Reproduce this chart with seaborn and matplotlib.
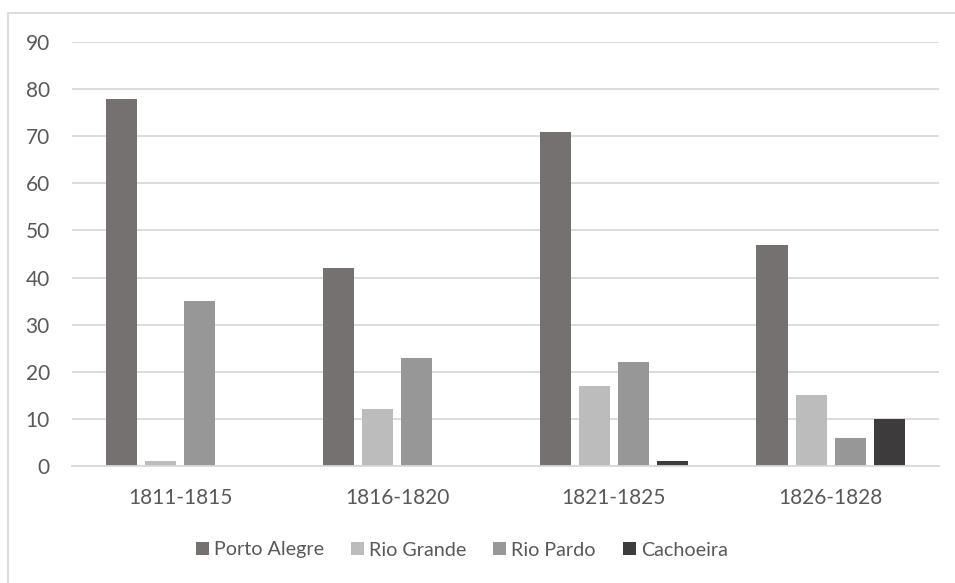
import matplotlib
matplotlib.use("Agg")
import matplotlib.pyplot as plt
import seaborn as sns
import pandas as pd
from matplotlib.patches import Rectangle

periods = ["1811-1815", "1816-1820", "1821-1825", "1826-1828"]
porto_alegre = [78, 42, 71, 47]
rio_grande = [1, 12, 17, 15]
rio_pardo = [35, 23, 22, 6]
cachoeira = [0, 0, 1, 10]
series_names = ["Porto Alegre", "Rio Grande", "Rio Pardo", "Cachoeira"]
colors = ["#757171", "#BCBCBC", "#979797", "#3D3B3B"]

rows = []
for name, vals in zip(series_names, [porto_alegre, rio_grande, rio_pardo, cachoeira]):
    for p, v in zip(periods, vals):
        rows.append({"period": p, "city": name, "value": v})
df = pd.DataFrame(rows)

sns.set_theme(style="white")
plt.rcParams["font.family"] = ["Lato", "DejaVu Sans"]
text_color = "#595959"
grid_color = "#D9D9D9"

fig = plt.figure(figsize=(9.55, 5.83), dpi=100)
ax = fig.add_axes([72 / 955, 1 - 466 / 583, (939 - 72) / 955, (466 - 42) / 583])

sns.barplot(data=df, x="period", y="value", hue="city", hue_order=series_names,
            order=periods, palette=colors, width=0.72, gap=0.2, saturation=1,
            edgecolor="none", linewidth=0, ax=ax, legend=True)

ax.set_ylim(0, 90)
ax.set_yticks(range(0, 91, 10))
ax.set_xlim(-0.5, 3.5)
ax.yaxis.grid(True, color=grid_color, linewidth=1.3)
ax.set_axisbelow(True)
for s in ["top", "right", "left"]:
    ax.spines[s].set_visible(False)
ax.spines["bottom"].set_color(grid_color)
ax.spines["bottom"].set_linewidth(1.3)
ax.tick_params(axis="both", length=0, labelsize=15, colors=text_color)
ax.tick_params(axis="y", pad=16)
ax.tick_params(axis="x", pad=16)
ax.set_xlabel("")
ax.set_ylabel("")

leg = ax.legend(loc="center left", bbox_to_anchor=(196 / 955, 1 - 550 / 583),
                bbox_transform=fig.transFigure, borderaxespad=0, borderpad=0,
                ncol=4, frameon=False, fontsize=14.2, handlelength=0.66, handleheight=0.66,
                handletextpad=0.25, columnspacing=1.37, labelcolor=text_color)

fig.patches.append(Rectangle((8 / 955, -0.05), 1.1, 1 - 13 / 583 + 0.05,
                             transform=fig.transFigure, fill=False,
                             edgecolor=grid_color, linewidth=1.3))

fig.savefig("out.png", dpi=100, facecolor="white")
